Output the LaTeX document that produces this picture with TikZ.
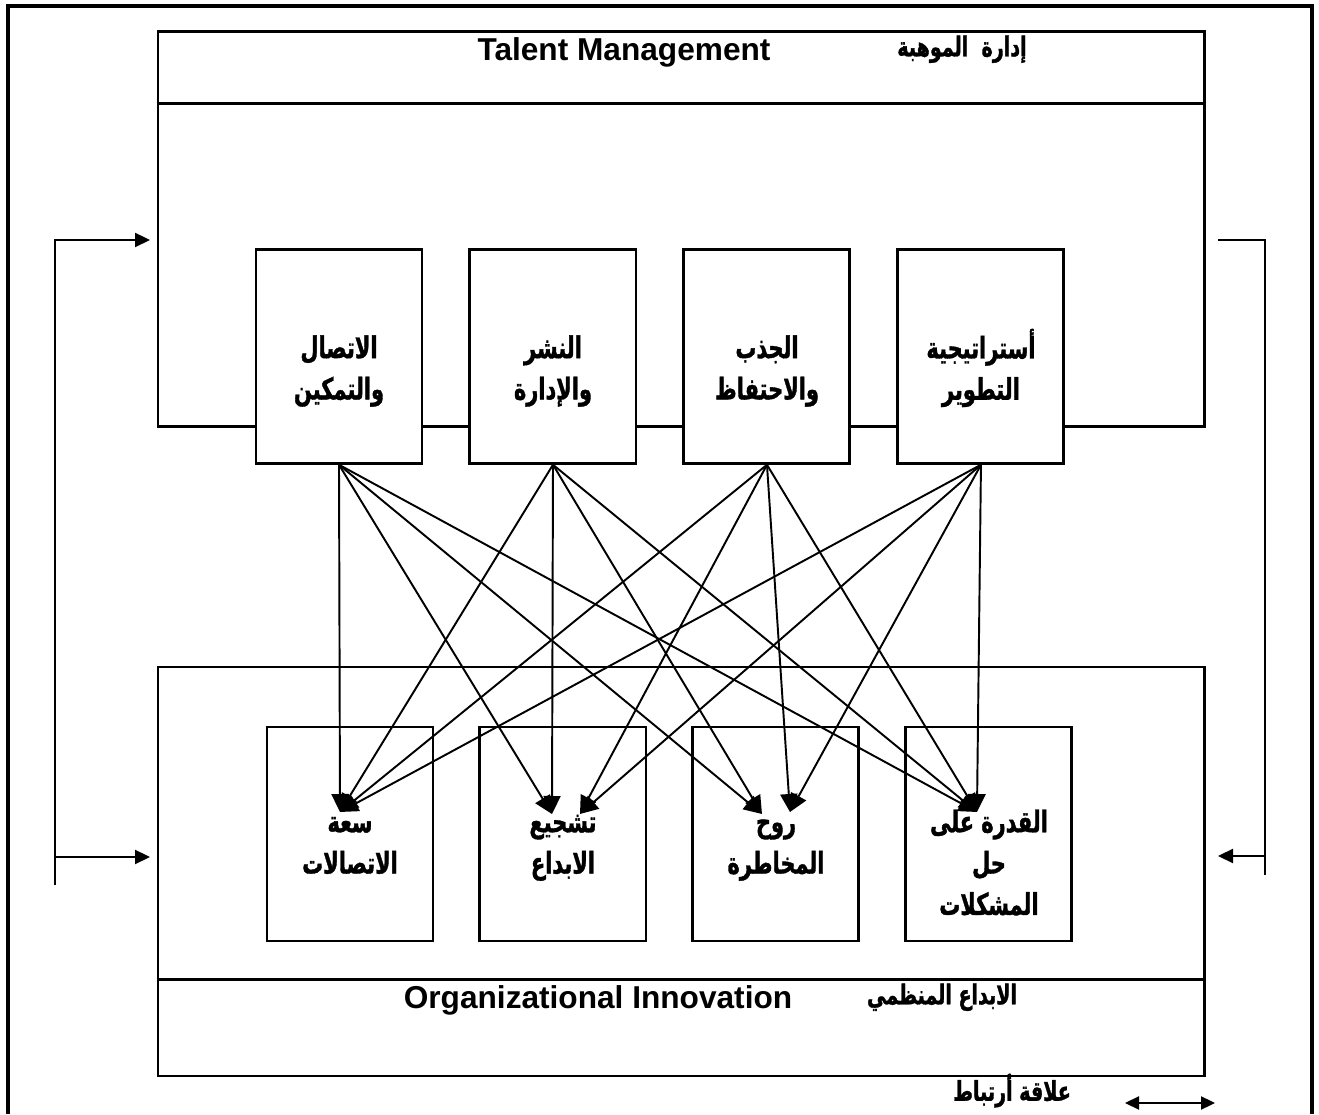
\documentclass[tikz,border=0pt]{standalone}
\usepackage{fontspec}
\setmainfont{Liberation Sans}
\newfontfamily\arabicfont[Script=Arabic,FakeStretch=0.7,BoldFeatures={FakeBold=1.2}]{DejaVu Sans}
\TeXXeTstate=1
\usetikzlibrary{positioning,arrows.meta}
\newcommand\artxt[1]{\beginR\strut #1\endR}
\tikzset{
  frame/.style={draw,line width=1.7pt,inner sep=0pt,minimum width=20.92cm},
  part/.style={draw,line width=1.7pt,fill=white,inner sep=0pt,minimum width=3.32cm,minimum height=4.27cm},
  engl/.style={font=\bfseries\fontsize{18}{22}\selectfont},
  arab/.style={font=\arabicfont\bfseries\fontsize{15.5}{18}\selectfont},
  lbl/.style={align=center,inner sep=0pt,font=\arabicfont\bfseries\fontsize{17}{23.5}\selectfont},
  arr/.style={-{Triangle[length=3.6mm,width=3.4mm]},line width=1.1pt},
  back/.style={-{Triangle[length=3mm,width=2.8mm]},line width=1.3pt},
}
\begin{document}
\begin{tikzpicture}
\useasboundingbox (0,0) rectangle (26.38,22.28);
\draw[line width=2.8pt] (0.16,0) -- (0.16,22.16) -- (26.24,22.16) -- (26.24,0);

\node[frame,minimum height=7.9cm] (tm) at (13.62,17.69) {};
\draw[line width=1.7pt] ([yshift=-1.46cm]tm.north west) -- ([yshift=-1.46cm]tm.north east);
\node[engl] (tmen) at (12.48,21.24) {Talent Management};
\node[arab] (tmar) at (19.24,21.28) {\artxt{إدارة\ \ الموهبة}};

\node[part] (conn) at (6.78,15.15) {};
\node[part,right=0.9cm of conn] (depl) {};
\node[part,right=0.9cm of depl] (attr) {};
\node[part,right=0.9cm of attr] (strat) {};
\node[lbl] (conntx) at ([yshift=-0.28cm]conn.center) {\artxt{الاتصال}\\\artxt{والتمكين}};
\node[lbl] (depltx) at ([yshift=-0.28cm]depl.center) {\artxt{النشر}\\\artxt{والإدارة}};
\node[lbl] (attrtx) at ([yshift=-0.28cm]attr.center) {\artxt{الجذب}\\\artxt{والاحتفاظ}};
\node[lbl] (strattx) at ([yshift=-0.28cm]strat.center) {\artxt{أستراتيجية}\\\artxt{التطوير}};

\node[frame,minimum height=8.18cm] (oi) at (13.62,4.85) {};
\draw[line width=1.7pt] ([yshift=1.96cm]oi.south west) -- ([yshift=1.96cm]oi.south east);
\node[engl] (oien) at (11.96,2.28) {Organizational Innovation};
\node[arab] (oiar) at (18.84,2.32) {\artxt{الابداع المنظمي}};

\node[part,minimum height=4.28cm] (comm) at (7.0,5.6) {};
\node[part,minimum height=4.28cm,right=0.88cm of comm] (encr) {};
\node[part,minimum height=4.28cm,right=0.88cm of encr] (risk) {};
\node[part,minimum height=4.28cm,right=0.88cm of risk] (solv) {};
\node[lbl,anchor=north] (commtx) at ([yshift=-1.55cm]comm.north) {\artxt{سعة}\\\artxt{الاتصالات}};
\node[lbl,anchor=north] (encrtx) at ([yshift=-1.55cm]encr.north) {\artxt{تشجيع}\\\artxt{الابداع}};
\node[lbl,anchor=north] (risktx) at ([yshift=-1.55cm]risk.north) {\artxt{روح}\\\artxt{المخاطرة}};
\node[lbl,anchor=north] (solvtx) at ([yshift=-1.55cm]solv.north) {\artxt{القدرة على}\\\artxt{حل}\\\artxt{المشكلات}};

\coordinate (t1) at ([shift={(-0.2,0.44)}]comm.center);
\coordinate (t2a) at ([shift={(-0.22,0.4)}]encr.center);
\coordinate (t2b) at ([shift={(0.34,0.4)}]encr.center);
\coordinate (t3a) at ([shift={(-0.28,0.4)}]risk.center);
\coordinate (t3b) at ([shift={(0.28,0.44)}]risk.center);
\coordinate (t4) at ([shift={(-0.24,0.44)}]solv.center);
\foreach \s/\a/\b in {conn/t2a/t3a,depl/t2a/t3a,attr/t2b/t3b,strat/t2b/t3b}{
  \draw[arr] (\s.south) -- (t1);
  \draw[arr] (\s.south) -- (\a);
  \draw[arr] (\s.south) -- (\b);
  \draw[arr] (\s.south) -- (t4);
}

\coordinate (ltop) at (1.1,17.48);
\coordinate (lbot) at (1.1,4.58);
\coordinate (lin) at (3.0,17.48);
\coordinate (lout) at (3.0,5.14);
\draw[back] (lbot) -- (ltop) -- (lin);
\draw[back] (ltop |- lout) -- (lout);
\coordinate (rtop) at (24.36,17.48);
\coordinate (rcor) at (25.3,17.48);
\coordinate (rbot) at (25.3,4.78);
\coordinate (rin) at (24.36,5.16);
\draw[line width=1.3pt] (rtop) -- (rcor) -- (rbot);
\draw[back] (rcor |- rin) -- (rin);

\coordinate (ka) at (22.5,0.22);
\coordinate (kb) at (24.3,0.22);
\draw[back,{Triangle[length=2.8mm,width=2.6mm]}-{Triangle[length=2.8mm,width=2.6mm]}] (ka) -- (kb);
\node[arab] (key) at (20.24,0.44) {\artxt{علاقة أرتباط}};
\end{tikzpicture}
\end{document}
